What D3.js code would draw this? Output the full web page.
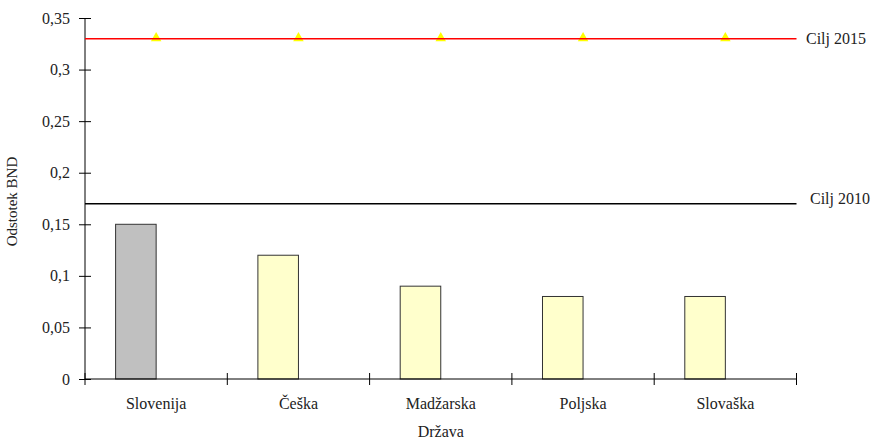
<!DOCTYPE html>
<html>
<head>
<meta charset="utf-8">
<script src="https://cdn.jsdelivr.net/npm/d3@7"></script>
<style>
  html, body { margin: 0; padding: 0; background: #fff; }
  svg { display: block; }
  text { font-family: "Liberation Serif", "DejaVu Serif", serif; fill: #222; }
</style>
</head>
<body>
<svg id="chart" width="876" height="439"></svg>
<script>
const categories = ["Slovenija", "Češka", "Madžarska", "Poljska", "Slovaška"];
const values = [0.15, 0.12, 0.09, 0.08, 0.08];
const barColors = ["#C0C0C0", "#FFFFCC", "#FFFFCC", "#FFFFCC", "#FFFFCC"];
const target2015 = [0.33, 0.33, 0.33, 0.33, 0.33];
const target2010 = 0.17;
const targetLabels = ["Cilj 2015", "Cilj 2010"];
const yTicks = [0, 0.05, 0.1, 0.15, 0.2, 0.25, 0.3, 0.35];
const yTitle = "Odstotek BND";
const xTitle = "Država";

(function () {
const svg = d3.select("#chart");
const mLeft = 85, mRight = 796.5, mTop = 18, mBottom = 379;
const fs = 16;

const x = d3.scaleBand().domain(categories).range([mLeft, mRight]).padding(0);
const y = d3.scaleLinear().domain([0, 0.35]).range([mBottom, mTop]);
const bw = x.bandwidth();
const fmt = d => String(d).replace(".", ",");

// bars
svg.append("g").selectAll("rect").data(categories).join("rect")
  .attr("x", d => x(d) + bw * 0.215)
  .attr("width", bw * 0.285)
  .attr("y", (d, i) => y(values[i]))
  .attr("height", (d, i) => y(0) - y(values[i]))
  .attr("fill", (d, i) => barColors[i])
  .attr("stroke", "#333")
  .attr("stroke-width", 1);

// y axis
const yAxis = svg.append("g").attr("transform", `translate(${mLeft},0)`)
  .call(d3.axisLeft(y).tickValues(yTicks).tickFormat(fmt).tickSize(6).tickPadding(9));
yAxis.select(".domain").attr("stroke", "#000").attr("d", `M0,${mBottom}V${mTop}`);
yAxis.selectAll(".tick line").attr("x1", -6).attr("x2", 6).attr("stroke", "#000");
yAxis.selectAll(".tick text").attr("font-size", fs).attr("fill", "#222");

// x axis
const xAxis = svg.append("g").attr("transform", `translate(0,${mBottom})`)
  .call(d3.axisBottom(x).tickSize(0).tickPadding(0));
xAxis.select(".domain").attr("stroke", "#000").attr("d", `M${mLeft},0H${mRight}`);
xAxis.selectAll(".tick text").attr("y", 30).attr("dy", 0).attr("font-size", fs)
  .attr("fill", "#222");
const bounds = categories.map(c => x(c)).concat([mRight]);
xAxis.selectAll("line.bnd").data(bounds).join("line").attr("class", "bnd")
  .attr("x1", d => d).attr("x2", d => d).attr("y1", -6).attr("y2", 6)
  .attr("stroke", "#000");

// target 2010 line
svg.append("line").attr("x1", mLeft).attr("x2", mRight)
  .attr("y1", y(target2010)).attr("y2", y(target2010))
  .attr("stroke", "#000").attr("stroke-width", 1.5);

// triangles for 2015 target
svg.append("g").selectAll("path").data(categories).join("path")
  .attr("d", d3.symbol().type(d3.symbolTriangle).size(48))
  .attr("transform", (d, i) => `translate(${x(d) + bw / 2},${y(target2015[i]) - 0.5})`)
  .attr("fill", "#FFFF00");

svg.append("line").attr("x1", mLeft).attr("x2", mRight)
  .attr("y1", y(target2015[0])).attr("y2", y(target2015[0]))
  .attr("stroke", "#FF0000").attr("stroke-width", 1.5);

svg.append("text").attr("x", 806).attr("y", y(target2015[0]) + 5)
  .attr("font-size", fs).text(targetLabels[0]);
svg.append("text").attr("x", 810).attr("y", y(target2010) + 0)
  .attr("font-size", fs).text(targetLabels[1]);

// titles
svg.append("text").attr("transform", `translate(17,${(mTop + mBottom) / 2 + 3}) rotate(-90)`)
  .attr("text-anchor", "middle").attr("font-size", 15).text(yTitle);
svg.append("text").attr("x", (mLeft + mRight) / 2).attr("y", 437)
  .attr("text-anchor", "middle").attr("font-size", fs).text(xTitle);
})();
</script>
</body>
</html>
